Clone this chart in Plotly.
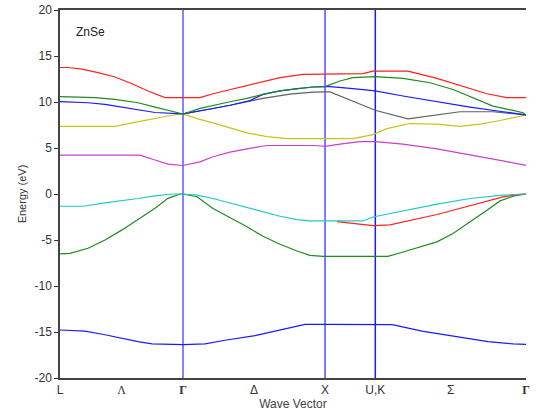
import plotly.graph_objects as go

# k-path positions (path length units)
k_L, k_G1, k_X, k_U, k_G2 = 0.0, 0.866, 1.866, 2.220, 3.281
tick_vals = [0.0, 0.433, 0.866, 1.366, 1.866, 2.220, 2.750, 3.281]
tick_text = ["L", "<span style='font-family:Liberation Serif'>Λ</span>",
             "<span style='font-family:Liberation Serif'><b>Γ</b></span>", "Δ", "X", "U,K", "Σ",
             "<span style='font-family:Liberation Serif'><b>Γ</b></span>"]
y_tick_vals = [-20, -15, -10, -5, 0, 5, 10, 15, 20]
y_tick_text = ["-20", "-15", "-10", "-5", "0", "5", "10", "15", "20"]
vlines = [k_G1, k_X, k_U]

# bands
b1_k = [0, 0.176, 0.317, 0.437, 0.549, 0.648, 0.866, 1.021, 1.162, 1.373, 1.563, 1.725, 1.866, 2.220, 2.338, 2.549, 2.781, 3.013, 3.190, 3.281]
b1_e = [-14.78, -14.9, -15.3, -15.7, -16.05, -16.3, -16.38, -16.3, -15.9, -15.4, -14.7, -14.17, -14.17, -14.17, -14.2, -14.9, -15.5, -16.05, -16.3, -16.34]

b2_k = [0, 0.070, 0.197, 0.317, 0.437, 0.549, 0.669, 0.760, 0.845, 0.866, 0.965, 1.077, 1.197, 1.317, 1.429, 1.549, 1.669, 1.760, 1.852, 1.866, 2.220, 2.309, 2.415, 2.535, 2.654, 2.767, 2.887, 3.006, 3.098, 3.190, 3.281]
b2_e = [-6.5, -6.45, -5.9, -5.0, -3.9, -2.75, -1.55, -0.47, 0.0, 0.0, -0.3, -1.57, -2.55, -3.57, -4.6, -5.46, -6.2, -6.67, -6.78, -6.78, -6.78, -6.78, -6.3, -5.75, -5.2, -4.3, -3.05, -1.77, -0.75, -0.24, 0.0]

b3_k = [0, 0.162, 0.317, 0.437, 0.549, 0.669, 0.789, 0.866, 0.965, 1.077, 1.197, 1.317, 1.429, 1.549, 1.669, 1.76, 1.866, 2.133, 2.204, 2.415, 2.654, 2.887, 3.119, 3.281]
b3_e = [-1.33, -1.33, -0.97, -0.75, -0.49, -0.2, 0.0, 0.0, -0.13, -0.49, -0.97, -1.47, -1.95, -2.42, -2.78, -2.93, -2.93, -2.93, -2.5, -1.84, -1.1, -0.49, -0.13, 0.0]

b4_k = [1.950, 2.063, 2.204, 2.323, 2.415, 2.535, 2.654, 2.767, 2.887, 3.006, 3.119, 3.239, 3.281]
b4_e = [-3.0, -3.21, -3.43, -3.35, -3.04, -2.67, -2.23, -1.77, -1.3, -0.78, -0.32, -0.05, 0.0]

b5_k = [0, 0.563, 0.669, 0.760, 0.866, 0.986, 1.077, 1.197, 1.317, 1.457, 1.80, 1.866, 1.971, 2.112, 2.220, 2.415, 2.654, 2.887, 3.119, 3.281]
b5_e = [4.23, 4.23, 3.7, 3.25, 3.1, 3.5, 4.05, 4.55, 4.9, 5.27, 5.27, 5.17, 5.42, 5.7, 5.7, 5.42, 4.9, 4.27, 3.6, 3.1]

b6_k = [0, 0.387, 0.507, 0.669, 0.789, 0.866, 0.965, 1.077, 1.197, 1.317, 1.457, 1.598, 1.866, 2.063, 2.204, 2.302, 2.464, 2.654, 2.816, 2.957, 3.098, 3.260, 3.281]
b6_e = [7.36, 7.36, 7.73, 8.2, 8.56, 8.7, 8.2, 7.73, 7.19, 6.64, 6.24, 6.02, 6.02, 6.02, 6.46, 7.1, 7.66, 7.6, 7.36, 7.6, 7.99, 8.46, 8.6]

b7_k = [0, 0.197, 0.317, 0.437, 0.577, 0.669, 0.866, 0.986, 1.077, 1.197, 1.281, 1.338, 1.429, 1.549, 1.669, 1.781, 1.866, 1.901, 2.063, 2.218, 2.415, 2.654, 2.887, 3.119, 3.260, 3.281]
b7_e = [10.03, 9.92, 9.74, 9.45, 9.08, 8.86, 8.7, 8.99, 9.29, 9.65, 9.9, 10.15, 10.83, 11.2, 11.45, 11.63, 11.67, 11.67, 11.45, 11.2, 10.65, 10.03, 9.45, 8.94, 8.65, 8.6]

b8_k = [0.866, 0.986, 1.077, 1.197, 1.281, 1.338, 1.429, 1.619, 1.781, 1.866, 1.901, 2.063, 2.218, 2.450, 2.654, 2.816, 3.049, 3.260, 3.281]
b8_e = [8.7, 8.99, 9.29, 9.65, 9.9, 10.15, 10.4, 10.85, 11.07, 11.1, 11.1, 10.08, 9.1, 8.16, 8.64, 8.94, 8.94, 8.65, 8.6]

b9_k = [0, 0.246, 0.387, 0.549, 0.669, 0.789, 0.866, 0.986, 1.077, 1.197, 1.317, 1.429, 1.549, 1.669, 1.781, 1.866, 1.971, 2.063, 2.218, 2.415, 2.605, 2.767, 2.908, 3.049, 3.190, 3.260, 3.281]
b9_e = [10.58, 10.47, 10.29, 9.92, 9.45, 9.0, 8.7, 9.3, 9.65, 10.03, 10.39, 10.83, 11.2, 11.45, 11.63, 11.67, 12.28, 12.65, 12.76, 12.57, 12.09, 11.36, 10.47, 9.55, 9.08, 8.83, 8.6]

b10_k = [0, 0.056, 0.155, 0.268, 0.387, 0.507, 0.620, 0.718, 0.739, 0.866, 0.986, 1.077, 1.197, 1.317, 1.429, 1.549, 1.711, 1.866, 2.133, 2.204, 2.450, 2.654, 2.816, 3.006, 3.147, 3.281]
b10_e = [13.75, 13.75, 13.57, 13.2, 12.72, 11.99, 11.19, 10.58, 10.47, 10.47, 10.47, 10.9, 11.36, 11.83, 12.27, 12.65, 13.0, 13.0, 13.08, 13.36, 13.36, 12.57, 11.83, 10.9, 10.47, 10.47]

bands = [
    (b1_k, b1_e, "#1a1aff"),
    (b2_k, b2_e, "#1e8c1e"),
    (b4_k, b4_e, "#ff2020"),
    (b3_k, b3_e, "#22c8c8"),
    (b5_k, b5_e, "#cc3fcc"),
    (b6_k, b6_e, "#c8c21e"),
    (b8_k, b8_e, "#606060"),
    (b7_k, b7_e, "#1a1aff"),
    (b9_k, b9_e, "#1e8c1e"),
    (b10_k, b10_e, "#ff2020"),
]

fig = go.Figure()
vcolors = ["#5a5aff", "#4d4dff", "#1a1aff"]
for xv, c in zip(vlines, vcolors):
    fig.add_trace(go.Scatter(x=[xv, xv], y=[-20, 20], mode="lines",
                             line=dict(color=c, width=1.5), hoverinfo="skip", showlegend=False))
for kk, ee, col in bands:
    fig.add_trace(go.Scatter(x=kk, y=ee, mode="lines", line=dict(color=col, width=1.2),
                             showlegend=False))

font_main = "Arial, Liberation Sans, sans-serif"
fig.update_layout(
    width=539, height=415,
    margin=dict(l=60, r=13, t=10, b=37),
    paper_bgcolor="white", plot_bgcolor="white",
    font=dict(family=font_main, size=12, color="#333333"),
    xaxis=dict(range=[k_L, k_G2], tickvals=tick_vals, ticktext=tick_text, ticks="",
               automargin=False,
               showgrid=False, zeroline=False, showline=True, linecolor="#444444",
               linewidth=1.5, mirror=True, tickfont=dict(size=12, color="#333333"),
               title=dict(text="Wave Vector", font=dict(size=12, color="#444444"), standoff=0)),
    yaxis=dict(range=[-20, 20], tickvals=y_tick_vals, ticktext=y_tick_text,
               automargin=False,
               ticks="outside", ticklen=4, tickcolor="#333333", showgrid=False, zeroline=False,
               showline=True, linecolor="#444444", linewidth=1.5,
               tickfont=dict(size=12, color="#333333"),
               title=dict(text="Energy (eV)", font=dict(size=11, color="#333333"), standoff=6)),
    yaxis2=dict(range=[-20, 20], overlaying="y", side="right", anchor="x",
                automargin=False,
                tickvals=y_tick_vals, ticks="inside", ticklen=4,
                tickcolor="#000000", showticklabels=False, showgrid=False, zeroline=False,
                showline=True, linecolor="#000000", linewidth=1.5),
    annotations=[dict(text="ZnSe", x=0.03, y=0.94, xref="paper", yref="paper",
                      xanchor="left", yanchor="middle", showarrow=False,
                      font=dict(size=12, color="#222222"))],
)
fig.write_html("out.html")
